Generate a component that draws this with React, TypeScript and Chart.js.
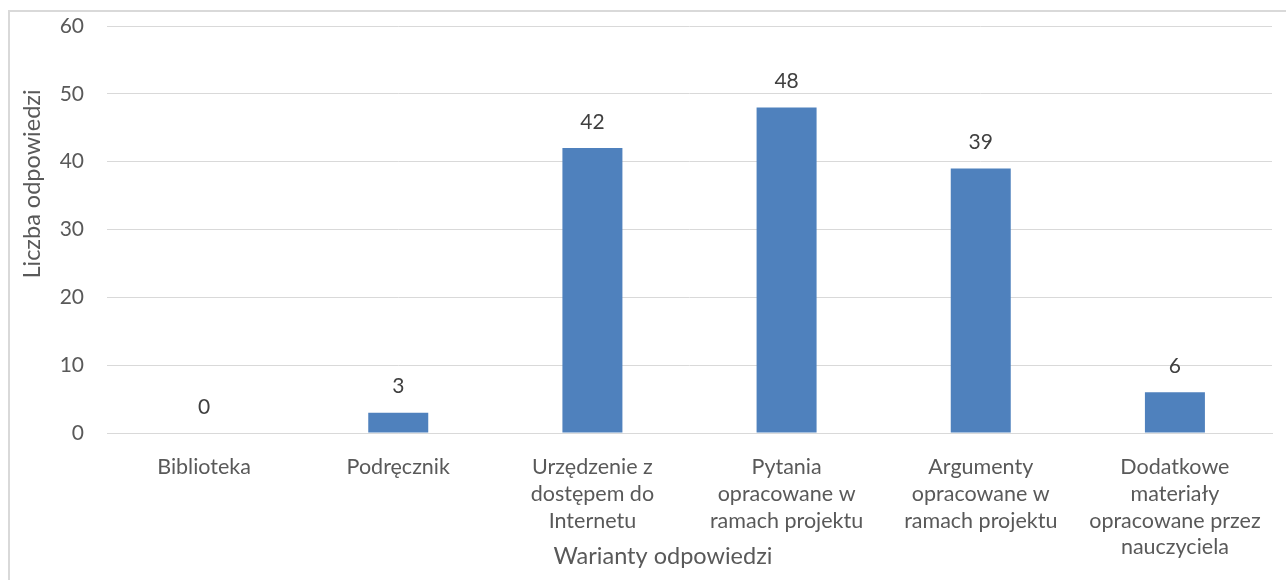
import React, { useEffect, useRef } from "react";
import { Chart, registerables } from "chart.js";

Chart.register(...registerables);

const categories: (string | string[])[] = [
  "Biblioteka",
  "Podręcznik",
  ["Urzędzenie z", "dostępem do", "Internetu"],
  ["Pytania", "opracowane w", "ramach projektu"],
  ["Argumenty", "opracowane w", "ramach projektu"],
  ["Dodatkowe", "materiały", "opracowane przez", "nauczyciela"],
];
const values = [0, 3, 42, 48, 39, 6];
const yMin = 0;
const yMax = 60;
const yStep = 10;
const xTitle = "Warianty odpowiedzi";
const yTitle = "Liczba odpowiedzi";

const FONT = "Lato, 'Open Sans', sans-serif";

export default function App() {
  const ref = useRef<HTMLCanvasElement | null>(null);

  useEffect(() => {
    if (!ref.current) return;
    const labelsPlugin = {
      id: "valueLabels",
      afterDatasetsDraw(chart: any) {
        const ctx = chart.ctx;
        const meta = chart.getDatasetMeta(0);
        ctx.save();
        ctx.font = `21px ${FONT}`;
        ctx.fillStyle = "#404040";
        ctx.textAlign = "center";
        ctx.textBaseline = "middle";
        meta.data.forEach((bar: any, i: number) => {
          ctx.fillText(String(values[i]), bar.x, bar.y - 26);
        });
        ctx.restore();
      },
    };
    const titlesPlugin = {
      id: "axisTitles",
      afterDraw(chart: any) {
        const ctx = chart.ctx;
        ctx.save();
        ctx.font = `23.5px ${FONT}`;
        ctx.fillStyle = "#595959";
        ctx.textAlign = "center";
        ctx.textBaseline = "middle";
        ctx.fillText(xTitle, 653, 544);
        ctx.translate(22, 172);
        ctx.rotate(-Math.PI / 2);
        ctx.fillText(yTitle, 0, 0);
        ctx.restore();
      },
    };
    const chart = new Chart(ref.current, {
      type: "bar",
      data: {
        labels: categories,
        datasets: [
          {
            data: values,
            backgroundColor: "#4F81BD",
            barPercentage: 0.309,
            categoryPercentage: 1,
          },
        ],
      },
      options: {
        animation: false,
        responsive: false,
        devicePixelRatio: 1,
        layout: { padding: { left: 0, top: 14, right: 14, bottom: 0 } },
        plugins: { legend: { display: false }, tooltip: { enabled: false } },
        scales: {
          x: {
            grid: { display: false },
            border: { display: true, color: "#d9d9d9", width: 1 },
            ticks: {
              color: "#595959",
              font: { family: FONT, size: 21.5, lineHeight: 1.24 },
              padding: 13,
              maxRotation: 0,
              autoSkip: false,
            },
            afterFit(scale: any) {
              scale.height = 147;
              scale.paddingLeft = 0;
              scale.paddingRight = 0;
            },
          },
          y: {
            min: yMin,
            max: yMax,
            grid: { color: "#d9d9d9", lineWidth: 1, drawTicks: false },
            border: { display: false },
            ticks: {
              stepSize: yStep,
              color: "#595959",
              font: { family: FONT, size: 21 },
              padding: 23,
            },
            afterFit(scale: any) {
              scale.width = 97;
              scale.paddingTop = 0;
              scale.paddingBottom = 0;
            },
          },
        },
      },
      plugins: [labelsPlugin, titlesPlugin],
    });
    return () => chart.destroy();
  }, []);

  return (
    <div
      style={{
        position: "absolute",
        left: 8,
        top: 10,
        width: 1278,
        height: 570,
        borderTop: "2px solid #d9d9d9",
        borderLeft: "2px solid #d9d9d9",
        boxSizing: "border-box",
        overflow: "hidden",
        background: "#fff",
      }}
    >
      <canvas ref={ref} width={1276} height={568} style={{ display: "block" }} />
    </div>
  );
}
